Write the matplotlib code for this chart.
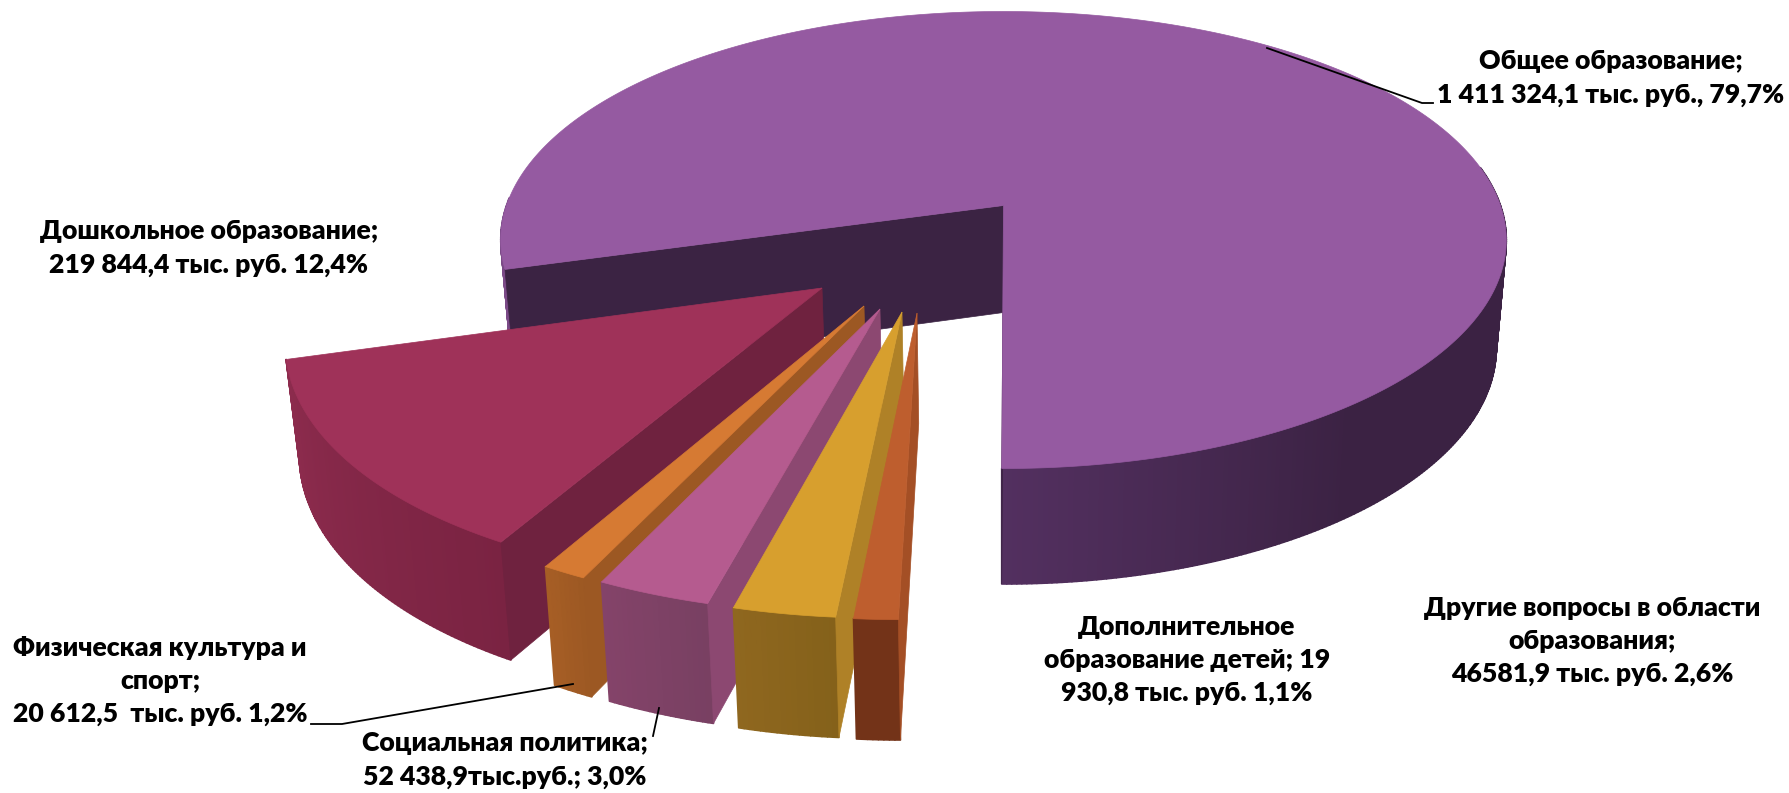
#!/usr/bin/python

import numpy as np
import matplotlib
matplotlib.use('Agg')
import matplotlib.pyplot as plt
from matplotlib.collections import PolyCollection
from matplotlib.patches import Polygon

## thousand roubles, in the order the slices sit around the pie
names = ['Общее образование', 'Дошкольное образование', 'Физическая культура и спорт',
         'Социальная политика', 'Другие вопросы', 'Дополнительное образование детей']
values = [1411324.1, 219844.4, 20612.5, 52438.9, 46581.9, 19930.8]

label_texts = ['Общее образование;\n1 411 324,1 тыс. руб., 79,7%',
               'Дошкольное образование;\n219 844,4 тыс. руб. 12,4%',
               'Физическая культура и\nспорт;\n20 612,5  тыс. руб. 1,2%',
               'Социальная политика;\n52 438,9тыс.руб.; 3,0%',
               'Другие вопросы в области\nобразования;\n46581,9 тыс. руб. 2,6%',
               'Дополнительное\nобразование детей; 19\n930,8 тыс. руб. 1,1%']
label_pos = [(1611, 78), (209, 248), (160, 681), (505, 760), (1592, 641), (1187, 660)]

## top colour, cut wall colour, rim colour left, rim colour right
top_cols = ['#955aa1', '#9f3259', '#d67a33', '#b55b8f', '#d79f2e', '#be5e2e']
cut_cols = ['#3b2343', '#6f223f', '#9c5823', '#8c4871', '#af8127', '#a44f25']
rim_left = ['#533060', '#8e2c4e', '#a65e25', '#844369', '#8f671f', '#733318']
rim_right = ['#3b2243', '#7a2342', '#9c5823', '#784062', '#84611a', '#733318']

## how far each slice is pulled out, in pie radii
explode = [(0.003, 0), (-0.343, 0.350), (-0.260, 0.4214), (-0.2295, 0.4332), (-0.1877, 0.4449), (-0.1594, 0.4489)]

## perspective of the drawing
k = 0.151
x0, y0 = 1002, 205.5
y1 = 312.5
bx, ay, ay1 = 497, 223.3, 230.5
x_shrink = 0.98
first_angle = 0.2
main_gap = 0.8

fig = plt.figure(figsize=(17.9, 7.93), dpi=100)
ax = fig.add_axes([0, 0, 1, 1])
ax.set_xlim(0, 1790)
ax.set_ylim(793, 0)
ax.axis('off')


def top_xy(u, v):
    s = 1 / (1 - k * v)
    return x0 + bx * u * s, y0 + ay * v * s


def low_xy(u, v):
    s = 1 / (1 - k * v)
    return x0 + bx * u * s * x_shrink, y1 + ay1 * v * s


def ring(a1, a2, off, n):
    phi = np.radians(np.linspace(a1, a2, n))
    return off[0] - np.sin(phi), off[1] + np.cos(phi)


def wall(a1, a2, off, c1, c2):
    ## rim of a slice as thin strips, c1 at a1 and c2 at a2
    n = max(int(abs(a2 - a1)) * 2, 6)
    u, v = ring(a1, a2, off, n + 1)
    xt, yt = top_xy(u, v)
    xb, yb = low_xy(u, v)
    c1 = np.array(matplotlib.colors.to_rgb(c1))
    c2 = np.array(matplotlib.colors.to_rgb(c2))
    quads = []
    cols = []
    for i in range(n):
        quads.append([(xt[i], yt[i]), (xt[i + 1], yt[i + 1]), (xb[i + 1], yb[i + 1]), (xb[i], yb[i])])
        cols.append(c1 + (c2 - c1) * i / n)
    ## wide edges so that no seam shows between strips
    ax.add_collection(PolyCollection(quads, facecolors=cols, edgecolors=cols, linewidths=1.2))


def cut(a, off, col):
    u, v = ring(a, a, off, 1)
    xa, ya = top_xy(off[0], off[1])
    xb, yb = top_xy(u[0], v[0])
    xc, yc = low_xy(u[0], v[0])
    xd, yd = low_xy(off[0], off[1])
    ax.add_patch(Polygon([(xa, ya), (xb, yb), (xc, yc), (xd, yd)], facecolor=col, edgecolor=col, lw=0.5))


def top(a1, a2, off, col):
    u, v = ring(a1, a2, off, 400)
    xs, ys = top_xy(np.r_[off[0], u], np.r_[off[1], v])
    ax.add_patch(Polygon(np.c_[xs, ys], facecolor=col, edgecolor=col, lw=0.5))


## slice edges, going from the front of the pie round to the left
shares = np.array(values) / sum(values) * 360
order = [5, 4, 3, 2, 1, 0]
edges = first_angle + np.r_[0, np.cumsum(shares[order])]
spans = {i: (edges[j], edges[j + 1]) for j, i in enumerate(order)}

## big slice first, it is behind the others
a1, a2 = spans[0]
a1 = a1 + main_gap
wall(a1, 92, explode[0], '#7b4a87', '#7b4a87')
wall(260, 322, explode[0], rim_right[0], rim_right[0])
wall(322, a2, explode[0], rim_right[0], rim_left[0])
cut(a1, explode[0], cut_cols[0])
cut(a2, explode[0], cut_cols[0])
top(a1, a2, explode[0], top_cols[0])

## the pulled out ones, back to front
for i in [1, 2, 3, 4, 5]:
    a1, a2 = spans[i]
    if i == 1:
        a2 = a2 + main_gap
    wall(a2, a1, explode[i], rim_left[i], rim_right[i])
    cut(a1, explode[i], cut_cols[i])
    top(a1, a2, explode[i], top_cols[i])

for txt, (lx, ly) in zip(label_texts, label_pos):
    ax.text(lx, ly, txt, ha='center', va='center', fontsize=19.2, fontweight='heavy',
            family=['Lato', 'Open Sans', 'DejaVu Sans'], linespacing=1.45, color='black')

## leader lines
ax.plot([1267, 1422, 1433], [48, 103, 103], color='black', lw=1.3)
ax.plot([311, 342, 573], [724, 724, 684], color='black', lw=1.3)
ax.plot([659, 653], [708, 736], color='black', lw=1.3)

fig.savefig('out.png', dpi=100, facecolor='white')
